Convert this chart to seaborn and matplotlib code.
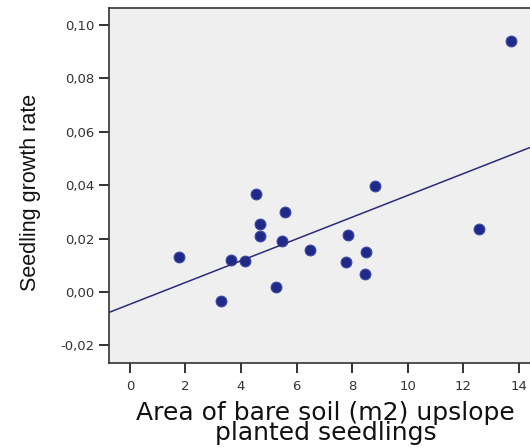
import pandas as pd
import matplotlib
matplotlib.use("Agg")
import matplotlib.pyplot as plt
import seaborn as sns

# Valores
area_suelo = [1.76, 3.27, 3.63, 4.14, 4.68, 4.68, 4.53, 8.83, 5.60,
              13.70, 5.48, 5.26, 6.50, 7.86, 7.78, 8.50, 8.47, 12.55]
tasa_crecimiento = [0.0132, -0.0035, 0.0120, 0.0116, 0.0254, 0.0211, 0.0366, 0.0398, 0.0299,
                    0.0941, 0.0190, 0.0019, 0.0158, 0.0215, 0.0112, 0.0151, 0.0067, 0.0236]
x_ticks = [0, 2, 4, 6, 8, 10, 12, 14]
y_ticks = [-0.02, 0.00, 0.02, 0.04, 0.06, 0.08, 0.10]

df = pd.DataFrame({"area": area_suelo, "tasa": tasa_crecimiento})

sns.set_style("ticks")
plt.rcParams['font.family'] = ['DejaVu Sans']

fig = plt.figure(figsize=(5.3, 4.48), dpi=100)
ax = fig.add_axes([0.2057, 0.19, 0.7943, 0.792])
ax.set_facecolor('#efefef')

# límites antes de la recta para que llegue a los bordes
ax.set_xlim(-0.75, 14.4)
ax.set_ylim(-0.0266, 0.1064)

sns.regplot(
    x='area', y='tasa', data=df, ax=ax, ci=None, truncate=False,
    scatter_kws={'s': 60, 'color': '#1f2a88', 'edgecolor': '#3a48a8', 'linewidths': 0.8, 'alpha': 1},
    line_kws={'color': '#2b2b7a', 'linewidth': 1.1}
)

ax.set_xlim(-0.75, 14.4)
ax.set_ylim(-0.0266, 0.1064)
ax.set_xticks(x_ticks)
ax.set_yticks(y_ticks)
ax.set_yticklabels([f"{v:.2f}".replace('.', ',') for v in y_ticks])

for s in ['left', 'bottom', 'top']:
    ax.spines[s].set_color('#333333')
    ax.spines[s].set_linewidth(1.2)
ax.spines['right'].set_visible(False)
ax.tick_params(axis='both', direction='out', length=7, width=1.4, color='#333333',
               labelsize=9.5, labelcolor='#333333')
ax.tick_params(axis='x', pad=5)

ax.set_xlabel("Area of bare soil (m2) upslope\nplanted seedlings", fontsize=18,
              linespacing=0.82, labelpad=6, color='#111111')
ax.xaxis.label.set_x(0.515)
ax.set_ylabel("Seedling growth rate", fontsize=15.5, labelpad=14, color='#111111',
              family='Liberation Sans')
ax.yaxis.label.set_y(0.48)

plt.savefig("out.png", dpi=100)
